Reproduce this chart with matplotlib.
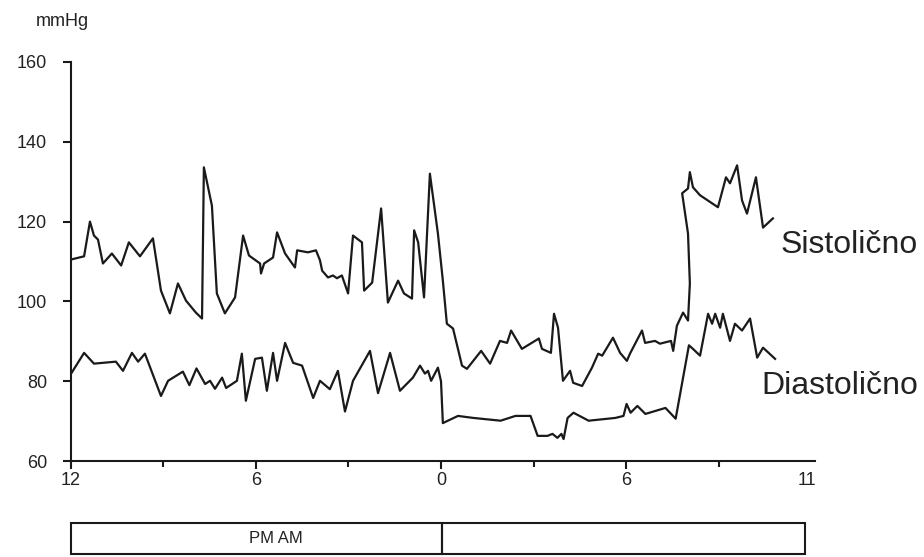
import matplotlib
matplotlib.use("Agg")
import matplotlib.pyplot as plt
from matplotlib.patches import Rectangle

# ---- data (hours since 12 PM, mmHg) ----
sys_t = [0.02,0.44,0.63,0.76,0.89,1.05,1.34,1.64,1.89,2.25,2.67,2.93,3.22,3.48,3.74,4.06,4.26,4.32,4.58,4.74,
         5.00,5.33,5.59,5.78,6.14,6.17,6.27,6.56,6.69,6.95,7.27,7.34,7.69,7.95,8.08,8.15,8.34,8.50,8.63,8.79,
         8.99,9.15,9.44,9.51,9.77,10.06,10.28,10.61,10.80,11.06,11.13,11.26,11.45,11.64,11.90,12.06,12.19,12.39,
         12.68,12.84,13.30,13.59,13.91,14.14,14.27,14.62,15.17,15.27,15.56,15.66,15.79,15.95,16.18,16.28,16.57,
         16.89,17.09,17.22,17.57,17.80,18.02,18.12,18.51,18.61,18.93,19.09,19.45,19.52,19.64,19.84,20.00,20.06,
         20.00,19.81,20.00,20.06,20.16,20.39,20.97,21.23,21.36,21.59,21.75,21.91,22.20,22.43,22.75]
sys_v = [110.5,111.3,120,116.5,115.5,109.5,112,109,114.8,111.3,115.8,102.7,97,104.5,100.2,97.2,95.7,133.6,124,102,
         97,101,116.5,111.5,109.5,107,109.5,111,117.3,112,108.5,112.8,112.3,112.8,110.3,107.7,106,106.5,105.8,106.5,
         102,116.5,114.8,102.7,104.7,123.3,99.7,105.2,102,100.7,117.8,114.8,101,132,117,105.2,94.4,93.2,
         83.9,83.1,87.6,84.4,90.1,89.6,92.7,88.1,90.7,88.1,87.1,96.9,93.4,80.1,82.6,79.6,78.8,
         83.4,86.9,86.4,90.9,87.1,85.1,86.9,92.7,89.6,90.1,89.4,90.1,87.6,93.9,97.2,95.2,104.5,
         117,127.1,128.3,132.4,128.6,126.6,123.6,131.1,129.6,134.1,125.3,122,131.1,118.5,120.8]

dia_t = [0.02,0.44,0.76,1.47,1.70,1.99,2.19,2.41,2.93,3.16,3.64,3.85,4.08,4.36,4.52,4.68,4.91,5.04,5.39,5.55,
         5.68,5.98,6.20,6.36,6.56,6.69,6.95,7.21,7.50,7.86,8.08,8.40,8.66,8.89,9.15,9.70,9.96,10.35,10.67,11.09,
         11.32,11.48,11.58,11.68,11.90,12.00,12.06,12.55,13.04,13.93,14.41,14.90,15.13,15.45,15.61,15.77,15.90,
         15.97,16.10,16.29,16.78,17.65,17.91,18.01,18.14,18.36,18.62,19.27,19.60,20.03,20.16,20.39,20.65,20.78,
         20.88,21.04,21.13,21.36,21.52,21.75,22.01,22.24,22.43,22.82]
dia_v = [81.9,87.1,84.4,84.9,82.6,87.1,84.9,86.9,76.3,80.1,82.4,79,83.2,79.3,80.1,78.1,80.9,78.3,80.1,86.9,
         75.1,85.6,85.9,77.6,87.1,80.1,89.6,84.6,83.9,75.8,80.1,78,82.6,72.4,80.1,87.6,77,87.1,77.6,80.9,
         83.9,81.9,82.6,80.1,83.4,80,69.5,71.3,70.8,70.1,71.3,71.3,66.3,66.3,66.8,65.8,66.8,
         65.5,70.8,72.1,70.1,70.8,71.3,74.3,72.1,73.8,71.8,73.3,70.6,89,88.1,86.4,96.9,94.4,
         96.9,93.4,96.9,90.1,94.4,92.7,95.7,85.9,88.4,85.6]

y_ticks = [60, 80, 100, 120, 140, 160]
x_major = [0, 6, 12, 18, 23.85]
x_major_labels = ["12", "6", "0", "6", "11"]
x_minor = [3, 9, 15, 21]
series_labels = ["Sistolično", "Diastolično"]
period_label = "PM AM"

plt.rcParams['font.family'] = ['Liberation Sans', 'DejaVu Sans']
ink = '#1a1a1a'
txt = '#222222'

W, H = 924, 557
fig = plt.figure(figsize=(W/100, H/100), dpi=100)

def fx(px): return px / W
def fy(py): return 1 - py / H

x0, x1 = 70.5, 814.6
yt, yb = 62, 461
ax = fig.add_axes([fx(x0), fy(yb), fx(x1) - fx(x0), fy(yt) - fy(yb)])
ax.plot(sys_t, sys_v, color=ink, lw=1.6)
ax.plot(dia_t, dia_v, color=ink, lw=1.6)
ax.set_xlim(0, 24.1)
ax.set_ylim(60, 160)
for s in ['top', 'right']:
    ax.spines[s].set_visible(False)
for s in ['left', 'bottom']:
    ax.spines[s].set_linewidth(1.5)
    ax.spines[s].set_color(ink)
ax.set_yticks(y_ticks)
ax.set_yticklabels([str(v) for v in y_ticks], fontsize=13, color=txt)
ax.tick_params(axis='y', direction='out', length=6, width=1.5, color=ink, pad=11)
ax.set_xticks(x_major)
ax.set_xticklabels(x_major_labels, fontsize=13, color=txt)
ax.set_xticks(x_minor, minor=True)
ax.tick_params(axis='x', which='major', direction='out', length=6, width=1.5, color=ink, pad=2)
ax.tick_params(axis='x', which='minor', direction='out', length=4, width=1.5, color=ink)
ax.xaxis.get_major_ticks()[-1].tick1line.set_visible(False)

fig.text(fx(36), fy(21), "mmHg", fontsize=13, color=txt, ha='left', va='center')
fig.text(fx(918), fy(245), series_labels[0], fontsize=23, color=txt, ha='right', va='center')
fig.text(fx(918), fy(386), series_labels[1], fontsize=23, color=txt, ha='right', va='center')

# period bar
bx = fig.add_axes([fx(x0), fy(554), fx(x1) - fx(x0), fy(523) - fy(554)])
bx.set_xlim(0, 24.1)
bx.set_ylim(0, 1)
bx.axis('off')
bx.add_patch(Rectangle((0, 0), 12.03, 1, fill=False, ec=ink, lw=1.5, clip_on=False))
bx.add_patch(Rectangle((12.03, 0), 11.75, 1, fill=False, ec=ink, lw=1.5, clip_on=False))
bx.text(6.65, 0.5, period_label, fontsize=12, color=txt, ha='center', va='center')

fig.savefig("out.png", dpi=100)
